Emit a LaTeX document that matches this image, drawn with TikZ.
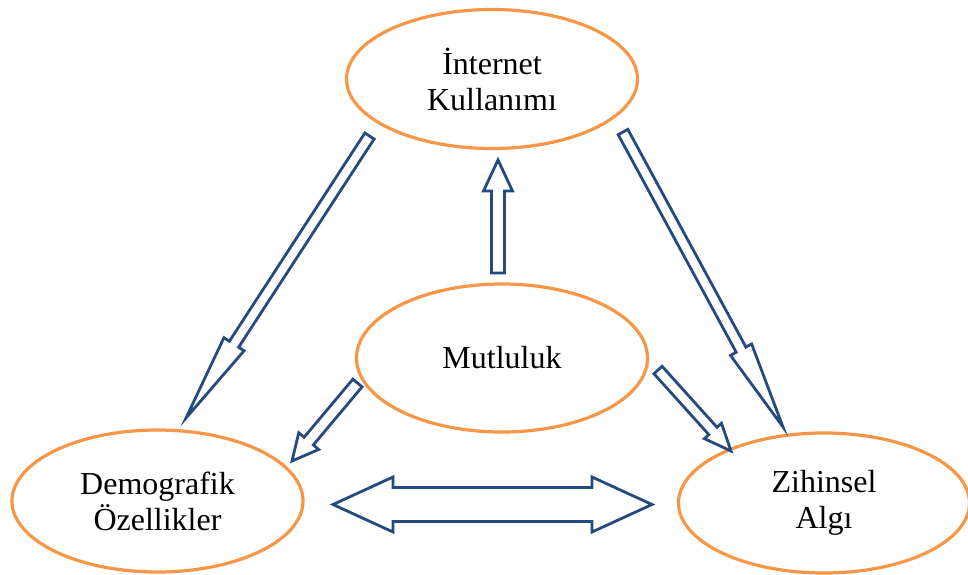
\documentclass[tikz,border=0pt]{standalone}
\usepackage{fontspec}
\setmainfont{Liberation Serif}
\usetikzlibrary{calc,shapes.geometric}

\begin{document}
\begin{tikzpicture}[x=0.5pt,y=-0.5pt,
    oval/.style={ellipse,draw=ovalline,line width=1.6pt,inner sep=0pt,
      minimum width=145.5pt,minimum height=#1,align=center,
      font=\fontsize{16}{18}\selectfont},
    % outlined block arrow: shaft half width, head half width, head length
    block/.style n args={3}{draw=arrowline,line width=1.4pt,
      to path={
        -- ($(\tikztostart)!#1!90:(\tikztotarget)$)
        -- ($($(\tikztotarget)!#3!(\tikztostart)$)!#1!-90:(\tikztostart)$)
        -- ($($(\tikztotarget)!#3!(\tikztostart)$)!#2!-90:(\tikztostart)$)
        -- (\tikztotarget)
        -- ($($(\tikztotarget)!#3!(\tikztostart)$)!#2!90:(\tikztostart)$)
        -- ($($(\tikztotarget)!#3!(\tikztostart)$)!#1!90:(\tikztostart)$)
        -- ($(\tikztostart)!#1!-90:(\tikztotarget)$)
        -- cycle}},
    % same with a head at both ends
    dblock/.style n args={3}{draw=arrowline,line width=1.4pt,
      to path={
        -- ($($(\tikztostart)!#3!(\tikztotarget)$)!#2!90:(\tikztotarget)$)
        -- ($($(\tikztostart)!#3!(\tikztotarget)$)!#1!90:(\tikztotarget)$)
        -- ($($(\tikztotarget)!#3!(\tikztostart)$)!#1!-90:(\tikztostart)$)
        -- ($($(\tikztotarget)!#3!(\tikztostart)$)!#2!-90:(\tikztostart)$)
        -- (\tikztotarget)
        -- ($($(\tikztotarget)!#3!(\tikztostart)$)!#2!90:(\tikztostart)$)
        -- ($($(\tikztotarget)!#3!(\tikztostart)$)!#1!90:(\tikztostart)$)
        -- ($($(\tikztostart)!#3!(\tikztotarget)$)!#1!-90:(\tikztotarget)$)
        -- ($($(\tikztostart)!#3!(\tikztotarget)$)!#2!-90:(\tikztotarget)$)
        -- cycle}}]
  \definecolor{ovalline}{RGB}{247,150,70}
  \definecolor{arrowline}{RGB}{36,74,128}

  % fix the visible area (pixels of the original)
  \useasboundingbox (0,0) rectangle (968,574);

  % the four concepts
  \node [oval=69.5pt] (inet)  at (492,79)    {İnternet\\Kullanımı};
  \node [oval=74pt]   (mutlu) at (502,358)   {Mutluluk};
  \node [oval=71pt]   (demo)  at (157.5,501) {Demografik\\Özellikler};
  \node [oval=70pt]   (zihin) at (824,503)   {Zihinsel\\Algı};

  % ends of the arrows
  \coordinate (inetL)  at (369.5,136);
  \coordinate (demoT)  at (186,418);
  \coordinate (inetR)  at (623,132);
  \coordinate (zihinT) at (783,427);
  \coordinate (mutluT) at (498,273);
  \coordinate (inetB)  at (498,160);
  \coordinate (mutluL) at (357.5,383);
  \coordinate (demoR)  at (292,461);
  \coordinate (mutluR) at (658,370);
  \coordinate (zihinL) at (731,451);
  \coordinate (dzL)    at (333,504.5);
  \coordinate (dzR)    at (652,504.5);

  % long arrows from the top
  \draw [block={2.75pt}{6pt}{44pt}] (inetL) to (demoT);
  \draw [block={2.75pt}{6pt}{44pt}] (inetR) to (zihinT);

  % arrows out of the middle
  \draw [block={3.25pt}{7.25pt}{15.5pt}] (mutluT) to (inetB);
  \draw [block={3pt}{6.5pt}{13pt}] (mutluL) to (demoR);
  \draw [block={2.75pt}{5.75pt}{13.5pt}] (mutluR) to (zihinL);

  % both ways along the bottom
  \draw [dblock={8.5pt}{13.75pt}{30pt}] (dzL) to (dzR);
\end{tikzpicture}
\end{document}
